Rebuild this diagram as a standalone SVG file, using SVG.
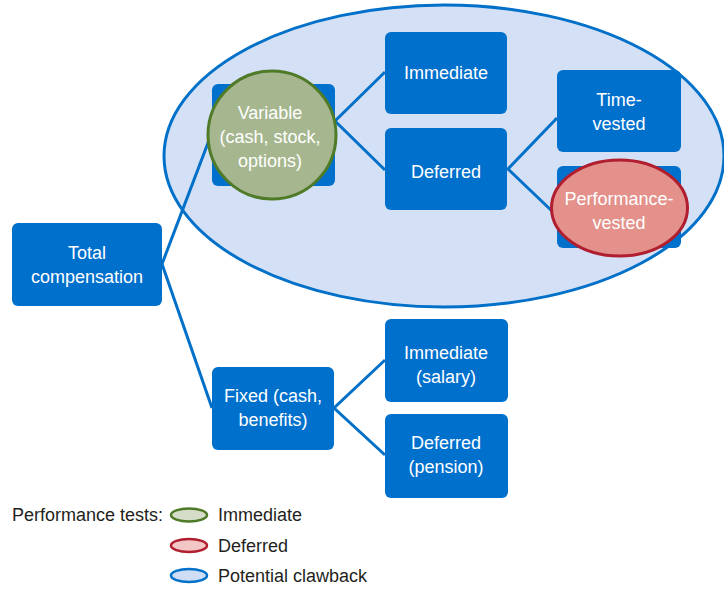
<svg xmlns="http://www.w3.org/2000/svg" width="724" height="591" viewBox="0 0 724 591">
<style>
.box{fill:#0070CD;}
.bt{font-family:"Liberation Sans",Arial,sans-serif;font-size:18px;fill:#FFFFFF;text-anchor:middle;}
.lt{font-family:"Liberation Sans",Arial,sans-serif;font-size:18px;fill:#231F20;}
.conn{stroke:#0070C8;stroke-width:3;fill:none;}
</style>
<rect width="724" height="591" fill="#FFFFFF"/>
<g id="clawback-zone">
<ellipse cx="444" cy="156" rx="280" ry="151" fill="#D4E0F5" stroke="#0070C8" stroke-width="3"/>
</g>
<g id="connectors">
<line class="conn" x1="162" y1="264" x2="211" y2="135"/>
<line class="conn" x1="162" y1="264" x2="212" y2="408"/>
<polyline class="conn" points="385,72 335,121 385,170"/>
<polyline class="conn" points="557,118 508,169 553,212"/>
<polyline class="conn" points="385,360 334,408 385,455"/>
</g>
<g id="total">
<rect class="box" x="12" y="223" width="150" height="83" rx="6"/>
<text class="bt" x="87" y="259">Total</text>
<text class="bt" x="87" y="283">compensation</text>
</g>
<g id="variable">
<rect class="box" x="212" y="84" width="123" height="102" rx="6"/>
<circle cx="272" cy="135" r="64" fill="#A6B78F" stroke="#4F7A28" stroke-width="3"/>
<text class="bt" x="270" y="119">Variable</text>
<text class="bt" x="270" y="143">(cash, stock,</text>
<text class="bt" x="270" y="167">options)</text>
</g>
<g id="var-immediate">
<rect class="box" x="385" y="32" width="122" height="82" rx="6"/>
<text class="bt" x="446" y="79">Immediate</text>
</g>
<g id="var-deferred">
<rect class="box" x="385" y="128" width="122" height="82" rx="6"/>
<text class="bt" x="446" y="178">Deferred</text>
</g>
<g id="time-vested">
<rect class="box" x="557" y="70" width="124" height="82" rx="6"/>
<text class="bt" x="619" y="106">Time-</text>
<text class="bt" x="619" y="130">vested</text>
</g>
<g id="performance-vested">
<rect class="box" x="557" y="166" width="124" height="82" rx="6"/>
<ellipse cx="619.5" cy="208" rx="68" ry="48" fill="#E3918A" stroke="#B01E2F" stroke-width="3"/>
<text class="bt" x="619" y="205">Performance-</text>
<text class="bt" x="619" y="229">vested</text>
</g>
<g id="fixed">
<rect class="box" x="212" y="367" width="122" height="83" rx="6"/>
<text class="bt" x="273" y="402">Fixed (cash,</text>
<text class="bt" x="273" y="426">benefits)</text>
</g>
<g id="fixed-immediate">
<rect class="box" x="385" y="319" width="123" height="83" rx="6"/>
<text class="bt" x="446" y="359">Immediate</text>
<text class="bt" x="446" y="383">(salary)</text>
</g>
<g id="fixed-deferred">
<rect class="box" x="385" y="414" width="123" height="84" rx="6"/>
<text class="bt" x="446" y="449">Deferred</text>
<text class="bt" x="446" y="473">(pension)</text>
</g>
<g id="legend">
<text class="lt" x="12" y="521">Performance tests:</text>
<ellipse cx="189" cy="515" rx="18" ry="6.5" fill="#D5DDC9" stroke="#4F7A28" stroke-width="2.5"/>
<text class="lt" x="218" y="521">Immediate</text>
<ellipse cx="189" cy="545.5" rx="18" ry="6.5" fill="#F4C7C7" stroke="#B01E2F" stroke-width="2.5"/>
<text class="lt" x="218" y="552">Deferred</text>
<ellipse cx="189" cy="575.5" rx="18" ry="6.5" fill="#D0DEF5" stroke="#0070C8" stroke-width="2.5"/>
<text class="lt" x="218" y="582">Potential clawback</text>
</g>
</svg>
